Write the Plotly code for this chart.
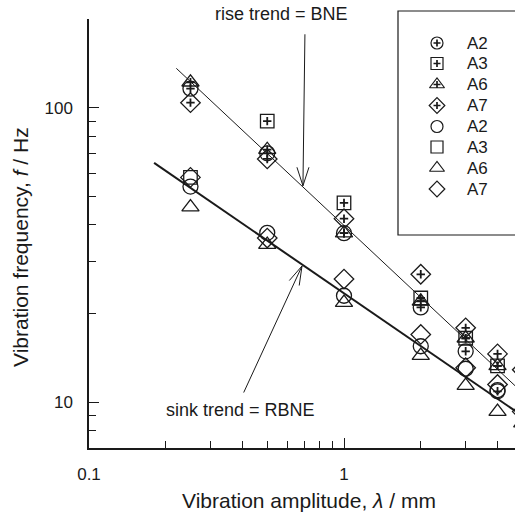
import plotly.graph_objects as go

# ---------------- data ----------------
X = [0.25, 0.5, 1, 2, 3, 4, 5]
rise_A2 = [116, 70, 37.5, 21, 14.9, 10.9, None]
rise_A3 = [None, 90, 47.5, 22.6, 16.5, 13.3, None]
rise_A6 = [122, 72, 37.5, 22, 16.5, 13.3, None]
rise_A7 = [104, 67, 42, 27.2, 17.9, 14.6, 12.9]
sink_A2 = [54, 37.6, 23, 15.5, 13, 11, None]
sink_A3 = [58, None, None, None, None, None, None]
sink_A6 = [46, 34.3, 21.8, 14.4, 11.4, 9.3, 8.5]
sink_A7 = [58, 36.1, 26.2, 17, 13.1, 11.5, 9.3]

rise_fit_x = [0.22, 5.0]
rise_fit_y = [136, 10.8]
sink_fit_x = [0.18, 5.0]
sink_fit_y = [65, 9.0]

legend_names = ["A2", "A3", "A6", "A7", "A2", "A3", "A6", "A7"]

x_tick_vals = [0.1, 1]
x_tick_text = ["0.1", "1"]
x_minor_vals = [0.2, 0.3, 0.4, 0.5, 0.6, 0.7, 0.8, 0.9, 2, 3, 4]
y_tick_vals = [10, 100, 200]
y_tick_text = ["10", "100", ""]
y_minor_vals = [8, 9, 20, 30, 40, 50, 60, 70, 80, 90]

# ---------------- layout geometry ----------------
W, H = 515, 512
L, R, T, B = 89, 0, 5, 64
PW = W - L - R
PH = H - T - B
Y_TOP_PX = 19  # top of main y axis (pixel)
FONT = "Liberation Sans, Arial, Helvetica, sans-serif"
INK = "#1a1a1a"


def px2paper(px, py):
    return (px - L) / PW, (H - B - py) / PH


series = [
    ("circle-open", 15, rise_A2, True),
    ("square-open", 13.5, rise_A3, True),
    ("triangle-up-open", 15, rise_A6, True),
    ("diamond-open", 15, rise_A7, True),
    ("circle-open", 15, sink_A2, False),
    ("square-open", 13.5, sink_A3, False),
    ("triangle-up-open", 15, sink_A6, False),
    ("diamond-open", 15, sink_A7, False),
]

fig = go.Figure()

# trend lines
fig.add_trace(go.Scatter(x=rise_fit_x, y=rise_fit_y, mode="lines",
                         line=dict(color=INK, width=1), showlegend=False,
                         hoverinfo="skip"))
fig.add_trace(go.Scatter(x=sink_fit_x, y=sink_fit_y, mode="lines",
                         line=dict(color=INK, width=2), showlegend=False,
                         hoverinfo="skip"))

for sym, size, ys, plus in series:
    fig.add_trace(go.Scatter(x=X, y=ys, mode="markers", showlegend=False,
                             marker=dict(symbol=sym, size=size, color=INK,
                                         line=dict(width=1.3, color=INK))))
    if plus:
        fig.add_trace(go.Scatter(x=X, y=ys, mode="markers", showlegend=False,
                                 marker=dict(symbol="cross-thin-open", size=6,
                                             color=INK,
                                             line=dict(width=1.8, color=INK))))

# ---------------- manual legend on a pixel-space overlay axis ----------------
leg_y = [43, 63.5, 84.5, 105.5, 126.5, 147, 168, 189]
leg_sizes = {"circle-open": 12, "square-open": 12, "triangle-up-open": 13,
             "diamond-open": 12}
for i, (sym, size, ys, plus) in enumerate(series):
    fig.add_trace(go.Scatter(x=[437], y=[leg_y[i]], xaxis="x2", yaxis="y2",
                             mode="markers", showlegend=False,
                             marker=dict(symbol=sym, size=leg_sizes[sym],
                                         color=INK,
                                         line=dict(width=1.2, color=INK))))
    if plus:
        fig.add_trace(go.Scatter(x=[437], y=[leg_y[i]], xaxis="x2",
                                 yaxis="y2", mode="markers", showlegend=False,
                                 marker=dict(symbol="cross-thin-open", size=5,
                                             color=INK,
                                             line=dict(width=1.7, color=INK))))

annotations = []
for i, name in enumerate(legend_names):
    annotations.append(dict(x=465, y=leg_y[i], xref="x2", yref="y2",
                            text=name, showarrow=False, xanchor="left",
                            yanchor="middle",
                            font=dict(family=FONT, size=17, color=INK)))

shapes = [dict(type="rect", xref="x2", yref="y2", x0=398, x1=600, y0=11,
               y1=235, line=dict(color=INK, width=1.2), fillcolor="rgba(0,0,0,0)")]

# ---------------- text annotations & arrows ----------------
def txt(px, py, text, size=18):
    xp, yp = px2paper(px, py)
    return dict(x=xp, y=yp, xref="paper", yref="paper", text=text,
                showarrow=False, xanchor="center", yanchor="middle",
                font=dict(family=FONT, size=size, color=INK))


annotations.append(txt(281, 14, "rise trend = BNE"))
annotations.append(txt(240, 410, "sink trend = RBNE"))


def seg(tipx, tipy, ax, ay, w=1):
    # tip given in log10 data coords (annotation convention on log axes)
    return dict(x=tipx, y=tipy, xref="x", yref="y", ax=ax, ay=ay,
                text="", showarrow=True, arrowhead=0, arrowwidth=w,
                arrowcolor=INK, standoff=0, startstandoff=0)


# rise arrow (vertical)
rtx, rty = -0.161, 1.735
annotations += [seg(rtx, rty, 2, -153), seg(rtx, rty, -6.5, -20),
                seg(rtx, rty, 6.5, -20)]
# sink arrow
stx, sty = -0.1647, 1.4626
annotations += [seg(stx, sty, -59, 128), seg(stx, sty, -14, 16),
                seg(stx, sty, -3, 21)]

# axis titles
annotations.append(txt(309, 500, "Vibration amplitude, <i>λ</i> / mm", 21))
xp, yp = px2paper(20, 247)
annotations.append(dict(x=xp, y=yp, xref="paper", yref="paper",
                        text="Vibration frequency, <i>f</i> / Hz",
                        showarrow=False, textangle=-90, xanchor="center",
                        yanchor="middle",
                        font=dict(family=FONT, size=21, color=INK)))

y_dom_top = (H - B - Y_TOP_PX) / PH

fig.update_layout(
    width=W, height=H,
    margin=dict(l=L, r=R, t=T, b=B, pad=0),
    paper_bgcolor="white", plot_bgcolor="rgba(0,0,0,0)",
    showlegend=False,
    font=dict(family=FONT, color=INK),
    xaxis=dict(type="log", range=[-1, (W - L) / 255 - 1], showgrid=False,
               zeroline=False, showline=True, linecolor=INK, linewidth=1.5,
               ticks="inside", ticklen=10, tickwidth=1.3, tickcolor=INK,
               tickvals=x_tick_vals, ticktext=x_tick_text,
               tickfont=dict(family=FONT, size=17, color=INK),
               ticklabelstandoff=10,
               minor=dict(tickvals=x_minor_vals, ticks="inside", ticklen=7,
                          tickwidth=1.3, tickcolor=INK, showgrid=False),
               anchor="y"),
    yaxis=dict(type="log", range=[0.845, 2.301], domain=[0, y_dom_top],
               showgrid=False, zeroline=False, showline=True, linecolor=INK,
               linewidth=1.5, ticks="inside", ticklen=10, tickwidth=1.3,
               tickcolor=INK, tickvals=y_tick_vals, ticktext=y_tick_text,
               tickfont=dict(family=FONT, size=17, color=INK),
               ticklabelstandoff=11,
               minor=dict(tickvals=y_minor_vals, ticks="inside", ticklen=7,
                          tickwidth=1.3, tickcolor=INK, showgrid=False),
               anchor="x"),
    xaxis2=dict(domain=[0, 1], range=[L, W], visible=False, anchor="y2",
                fixedrange=True),
    yaxis2=dict(domain=[0, 1], range=[H - B, T], visible=False, anchor="x2",
                fixedrange=True),
    annotations=annotations,
    shapes=shapes,
)

fig.write_html("out.html")
